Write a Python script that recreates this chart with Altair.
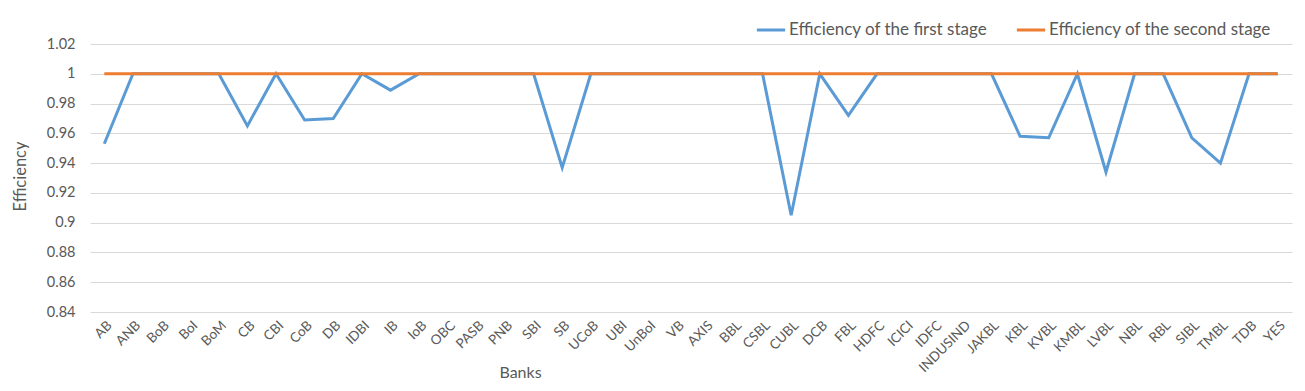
import altair as alt
import pandas as pd

banks = ["AB", "ANB", "BoB", "BoI", "BoM", "CB", "CBI", "CoB", "DB", "IDBI", "IB", "IoB",
         "OBC", "PASB", "PNB", "SBI", "SB", "UCoB", "UBI", "UnBoI", "VB", "AXIS", "BBL",
         "CSBL", "CUBL", "DCB", "FBL", "HDFC", "ICICI", "IDFC", "INDUSIND", "JAKBL", "KBL",
         "KVBL", "KMBL", "LVBL", "NBL", "RBL", "SIBL", "TMBL", "TDB", "YES"]

first_stage = [0.953, 1, 1, 1, 1, 0.965, 1, 0.969, 0.970, 1, 0.989, 1,
               1, 1, 1, 1, 0.937, 1, 1, 1, 1, 1, 1,
               1, 0.905, 1, 0.972, 1, 1, 1, 1, 1, 0.958,
               0.957, 1, 0.934, 1, 1, 0.957, 0.940, 1, 1]

second_stage = [1] * len(banks)

series_names = ["Efficiency of the first stage", "Efficiency of the second stage"]
series_colors = ["#5B9BD5", "#ED7D31"]
y_ticks = [0.84, 0.86, 0.88, 0.9, 0.92, 0.94, 0.96, 0.98, 1.0, 1.02]

rows = []
for b, v in zip(banks, first_stage):
    rows.append({"Bank": b, "Series": series_names[0], "Value": v})
for b, v in zip(banks, second_stage):
    rows.append({"Bank": b, "Series": series_names[1], "Value": v})
df = pd.DataFrame(rows)

FONT = "Lato"
TXT = "#595959"

chart = alt.Chart(df).mark_line(strokeWidth=3).encode(
    x=alt.X("Bank:N", sort=banks,
            scale=alt.Scale(paddingInner=0, paddingOuter=0.5),
            axis=alt.Axis(title="Banks", labelAngle=-45, ticks=False, domain=False,
                          labelPadding=6, labelFontSize=13.5, labelColor=TXT, labelFont=FONT,
                          titleFontSize=16, titleColor=TXT, titleFont=FONT, titleFontWeight="normal",
                          titleX=430, titleY=60, titleBaseline="middle")),
    y=alt.Y("Value:Q",
            scale=alt.Scale(domain=[0.84, 1.02], nice=False, zero=False),
            axis=alt.Axis(title="Efficiency", values=y_ticks, format=".2~f", ticks=False, domain=False,
                          labelPadding=15, labelFontSize=14.5, labelColor=TXT, labelFont=FONT,
                          gridColor="#D9D9D9", gridWidth=1,
                          titleFontSize=16.5, titleColor=TXT, titleFont=FONT, titleFontWeight="normal",
                          titleX=-70, titleY=132, titleAlign="center", titleBaseline="middle")),
    color=alt.Color("Series:N",
                    scale=alt.Scale(domain=series_names, range=series_colors),
                    legend=alt.Legend(title=None, orient="none", direction="horizontal",
                                      legendX=665, legendY=-30,
                                      symbolType="stroke", symbolSize=800, symbolStrokeWidth=3,
                                      labelFontSize=17, labelColor=TXT, labelFont=FONT, labelLimit=400,
                                      labelOffset=2, columnPadding=22)),
    order=alt.Order("Series:N"),
).properties(
    width=1202, height=268,
    autosize=alt.AutoSizeParams(type="none"),
    padding={"left": 82, "top": 36, "right": 5, "bottom": 70},
).configure_view(stroke=None)

chart.save("out.html", embed_options={"renderer": "svg", "actions": False})
